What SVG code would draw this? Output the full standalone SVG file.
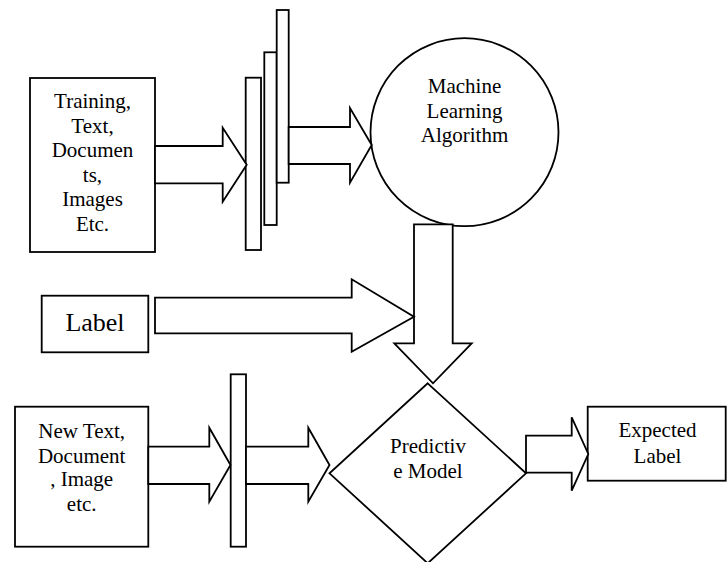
<svg xmlns="http://www.w3.org/2000/svg" width="727" height="562" viewBox="0 0 727 562">
  <defs>
    <style>
      .shape { fill: #ffffff; stroke: #000000; stroke-width: 1.8; stroke-linejoin: miter; }
    </style>
  </defs>
  <rect x="0" y="0" width="727" height="562" fill="#ffffff"/>

  <!-- input data -->
  <g id="training-data">
    <rect class="shape" x="30" y="78" width="125" height="174"/>
    <text x="92.5" y="108" font-family="Liberation Serif" font-size="21" text-anchor="middle">Training,</text>
    <text x="92.5" y="132.5" font-family="Liberation Serif" font-size="21" text-anchor="middle">Text,</text>
    <text x="92.5" y="157" font-family="Liberation Serif" font-size="21" text-anchor="middle">Documen</text>
    <text x="92.5" y="181.5" font-family="Liberation Serif" font-size="21" text-anchor="middle">ts,</text>
    <text x="92.5" y="206" font-family="Liberation Serif" font-size="21" text-anchor="middle">Images</text>
    <text x="92.5" y="230.5" font-family="Liberation Serif" font-size="21" text-anchor="middle">Etc.</text>
  </g>

  <!-- feature extraction stack -->
  <g id="feature-stack">
    <rect class="shape" x="245.7" y="77.7" width="15.3" height="172.3"/>
    <rect class="shape" x="264.3" y="52.3" width="12.4" height="172.7"/>
    <rect class="shape" x="276.7" y="10" width="12" height="172.7"/>
  </g>

  <g id="ml-algorithm">
    <circle class="shape" cx="464.5" cy="132.2" r="94"/>
    <text x="464.5" y="93" font-family="Liberation Serif" font-size="21" text-anchor="middle">Machine</text>
    <text x="464.5" y="117.5" font-family="Liberation Serif" font-size="21" text-anchor="middle">Learning</text>
    <text x="464.5" y="142" font-family="Liberation Serif" font-size="21" text-anchor="middle">Algorithm</text>
  </g>

  <g id="label">
    <rect class="shape" x="41.7" y="295.7" width="106.6" height="56.6"/>
    <text x="95" y="331" font-family="Liberation Serif" font-size="26" text-anchor="middle">Label</text>
  </g>

  <g id="new-data">
    <rect class="shape" x="15" y="406.7" width="133.3" height="140"/>
    <text x="81.7" y="438" font-family="Liberation Serif" font-size="21" text-anchor="middle">New Text,</text>
    <text x="81.7" y="462.5" font-family="Liberation Serif" font-size="21" text-anchor="middle">Document</text>
    <text x="81.7" y="486" font-family="Liberation Serif" font-size="21" text-anchor="middle">, Image</text>
    <text x="81.7" y="511" font-family="Liberation Serif" font-size="21" text-anchor="middle">etc.</text>
  </g>

  <g id="feature-bar">
    <rect class="shape" x="230.7" y="374.3" width="15.3" height="172.4"/>
  </g>

  <g id="predictive-model">
    <polygon class="shape" points="427.7,383.3 526,473.3 427.7,563.3 329.5,473.3"/>
    <text x="428" y="452.7" font-family="Liberation Serif" font-size="21" text-anchor="middle">Predictiv</text>
    <text x="428" y="478.3" font-family="Liberation Serif" font-size="21" text-anchor="middle">e Model</text>
  </g>

  <g id="expected-label">
    <rect class="shape" x="587.7" y="406.7" width="138" height="74"/>
    <text x="657.5" y="436.7" font-family="Liberation Serif" font-size="21" text-anchor="middle">Expected</text>
    <text x="657.5" y="462.7" font-family="Liberation Serif" font-size="21" text-anchor="middle">Label</text>
  </g>

  <!-- block arrows -->
  <g id="connectors">
    <polygon class="shape" points="155,146 222.7,146 222.7,127.7 246.7,164.7 222.7,201.7 222.7,183.3 155,183.3"/>
    <polygon class="shape" points="288.7,127 350,127 350,108 371.7,145 350,182.7 350,164 288.7,164"/>
    <polygon class="shape" points="414,224.3 452.7,224.3 452.7,343.3 471.7,343.3 433,383.3 394.3,343.3 414,343.3"/>
    <polygon class="shape" points="155,297.7 351.7,297.7 351.7,279.3 414,316.7 351.7,351.7 351.7,333.3 155,333.3"/>
    <polygon class="shape" points="148.3,446.7 209.3,446.7 209.3,427.7 230.5,465 209.3,501.7 209.3,484 148.3,484"/>
    <polygon class="shape" points="246,446.7 308.3,446.7 308.3,427.7 329.5,465 308.3,501.7 308.3,484 246,484"/>
    <polygon class="shape" points="526,435.7 571.7,435.7 571.7,417.3 588.3,454 571.7,490.7 571.7,472.7 526,472.7"/>
  </g>
</svg>
